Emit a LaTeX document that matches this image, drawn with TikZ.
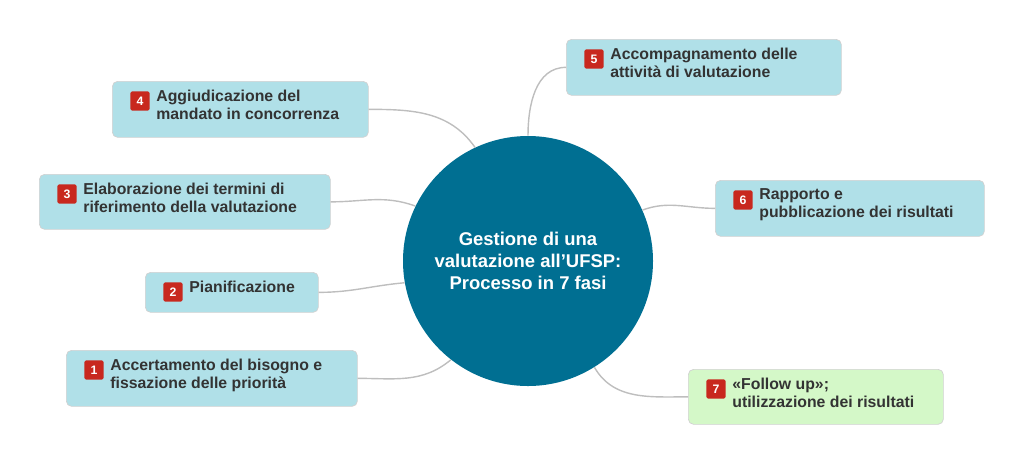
\documentclass[tikz,border=0pt]{standalone}
\usepackage{fontspec}
\setmainfont{Liberation Sans}
\usetikzlibrary{positioning}
\definecolor{hubblue}{RGB}{0,111,146}
\definecolor{boxblue}{RGB}{176,224,232}
\definecolor{boxgreen}{RGB}{212,248,200}
\definecolor{badgered}{RGB}{200,40,30}
\definecolor{linegray}{RGB}{190,190,190}
\tikzset{
  phasebox/.style={draw=linegray!70, fill=boxblue, rounded corners=3pt, anchor=north west, inner sep=0pt},
  badge/.style={fill=badgered, rounded corners=1pt, text=white, font=\fontsize{7}{7}\selectfont\bfseries, minimum size=11pt, inner sep=0pt},
  phasetext/.style={align=left, text=black!80, font=\fontsize{9}{10.5}\selectfont\bfseries, inner sep=0pt, anchor=north west},
  link/.style={draw=linegray, line width=0.8pt}
}
\newcommand{\phase}[6]{%
  \node[phasebox, #6, minimum width=#3*0.02cm, minimum height=#4*0.02cm] (b#5) at (#1,#2) {};
  \node[badge, anchor=north west] (n#5) at ([xshift=18*0.02cm, yshift=-10*0.02cm]b#5.north west) {#5};
}
\begin{document}
\begin{tikzpicture}[x=0.02cm, y=-0.02cm]
\useasboundingbox (0,0) rectangle (1024,464);
\node[circle, fill=hubblue, minimum size=250*0.02cm, inner sep=0pt, text=white, align=center,
  font=\fontsize{10.5}{12.5}\selectfont\bfseries] (hub) at (528,261)
  {Gestione di una\\valutazione all’UFSP:\\Processo in 7 fasi};
% fasi
\phase{112}{81}{256}{56}{4}{}
\phase{566}{39}{275}{56}{5}{}
\phase{39}{174}{291}{55}{3}{}
\phase{715}{180}{269}{56}{6}{}
\phase{145}{272}{173}{40}{2}{}
\phase{66}{350}{291}{56}{1}{}
\phase{688}{369}{255}{55}{7}{fill=boxgreen}
\node[phasetext] (t4) at ([xshift=6*0.02cm, yshift=1pt]n4.north east) {Aggiudicazione del\\mandato in concorrenza};
\node[phasetext] (t5) at ([xshift=6*0.02cm, yshift=1pt]n5.north east) {Accompagnamento delle\\attività di valutazione};
\node[phasetext] (t3) at ([xshift=6*0.02cm, yshift=1pt]n3.north east) {Elaborazione dei termini di\\riferimento della valutazione};
\node[phasetext] (t6) at ([xshift=6*0.02cm, yshift=1pt]n6.north east) {Rapporto e\\pubblicazione dei risultati};
\node[phasetext] (t2) at ([xshift=6*0.02cm, yshift=1pt]n2.north east) {Pianificazione};
\node[phasetext] (t1) at ([xshift=6*0.02cm, yshift=1pt]n1.north east) {Accertamento del bisogno e\\fissazione delle priorità};
\node[phasetext] (t7) at ([xshift=6*0.02cm, yshift=1pt]n7.north east) {«Follow up»;\\utilizzazione dei risultati};
% collegamenti
\draw[link] (b4.east) to[out=0, in=125] (hub.115);
\draw[link] (b5.west) to[out=180, in=90] (hub.90);
\draw[link] (b3.east) to[out=0, in=160] (hub.154);
\draw[link] (b6.west) to[out=180, in=20] (hub.24);
\draw[link] (b2.east) to[out=0, in=185] (hub.190);
\draw[link] (b1.east) to[out=0, in=220] (hub.232);
\draw[link] (b7.west) to[out=180, in=300] (hub.302);
\end{tikzpicture}
\end{document}
